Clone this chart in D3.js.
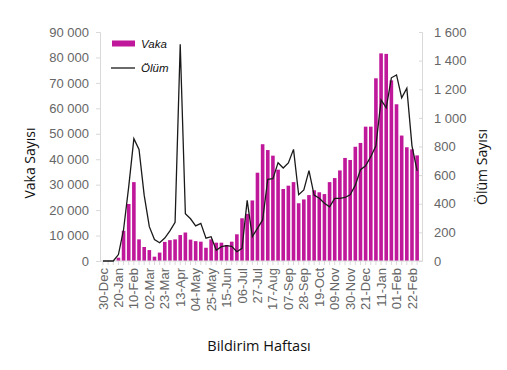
<!DOCTYPE html>
<html>
<head>
<meta charset="utf-8">
<script src="https://cdn.jsdelivr.net/npm/d3@7"></script>
<style>
  body { margin: 0; background: #fff; }
  svg { display: block; }
</style>
</head>
<body>
<script>
// weekly categories, 30-Dec-2019 .. 01-Mar-2021
var weeks = ["30-Dec", "06-Jan", "13-Jan", "20-Jan", "27-Jan", "03-Feb", "10-Feb", "17-Feb", "24-Feb",
    "02-Mar", "09-Mar", "16-Mar", "23-Mar", "30-Mar", "06-Apr", "13-Apr", "20-Apr", "27-Apr",
    "04-May", "11-May", "18-May", "25-May", "01-Jun", "08-Jun", "15-Jun", "22-Jun", "29-Jun",
    "06-Jul", "13-Jul", "20-Jul", "27-Jul", "03-Aug", "10-Aug", "17-Aug", "24-Aug", "31-Aug",
    "07-Sep", "14-Sep", "21-Sep", "28-Sep", "05-Oct", "12-Oct", "19-Oct", "26-Oct", "02-Nov",
    "09-Nov", "16-Nov", "23-Nov", "30-Nov", "07-Dec", "14-Dec", "21-Dec", "28-Dec", "04-Jan",
    "11-Jan", "18-Jan", "25-Jan", "01-Feb", "08-Feb", "15-Feb", "22-Feb", "01-Mar"];

// only every third week gets a label
var tickWeeks = ["30-Dec", "20-Jan", "10-Feb", "02-Mar", "23-Mar", "13-Apr", "04-May", "25-May",
    "15-Jun", "06-Jul", "27-Jul", "17-Aug", "07-Sep", "28-Sep", "19-Oct", "09-Nov", "30-Nov",
    "21-Dec", "11-Jan", "01-Feb", "22-Feb"];

// cases (bars, left axis)
var vaka = [0, 0, 0, 1300, 11900, 22400, 31000, 8500, 5500,
    4300, 1700, 3300, 7500, 8200, 8500, 10200, 11200, 8400,
    7800, 7600, 5200, 8500, 7200, 7200, 6300, 7600, 10500,
    16800, 18500, 23800, 34700, 45900, 43600, 41400, 35900, 28300,
    29600, 31000, 22700, 24200, 25900, 27800, 27000, 26300, 31000,
    32600, 35600, 40500, 39700, 44900, 46400, 52800, 52800, 71800,
    81600, 81400, 71000, 61600, 49300, 44700, 43900, 41500];

// deaths (line, right axis)
var olum = [0, 0, 0, 45, 220, 520, 855, 780, 460,
    240, 150, 128, 160, 210, 270, 1515, 330, 295,
    245, 263, 160, 170, 75, 100, 108, 102, 65,
    89, 424, 170, 228, 287, 571, 575, 687, 650,
    685, 780, 463, 496, 631, 461, 438, 403, 378,
    438, 438, 444, 463, 530, 638, 665, 729, 805,
    1125, 1070, 1280, 1300, 1140, 1207, 805, 630];

var leftTicks = [0, 10000, 20000, 30000, 40000, 50000, 60000, 70000, 80000, 90000];
var rightTicks = [0, 200, 400, 600, 800, 1000, 1200, 1400, 1600];

var svg = d3.select("body")
    .append("svg")
    .attr("width", 507)
    .attr("height", 370);

// space as thousands separator
var loc = d3.formatLocale({ decimal: ",", thousands: "\u00a0", grouping: [3], currency: ["", ""] });
var fmt = loc.format(",");

var x = d3.scaleBand().domain(weeks).range([100.4, 419.7]).paddingInner(0.3).paddingOuter(0.15);
var yL = d3.scaleLinear().domain([0, 90000]).range([261, 32]);
var yR = d3.scaleLinear().domain([0, 1600]).range([261, 32]);

var axisColor = "#d9d9d9";
var labelColor = "#666";

// bars
svg.append("g").selectAll("rect")
    .data(vaka)
    .enter().append("rect")
    .attr("x", function (d, i) { return x(weeks[i]); })
    .attr("width", x.bandwidth())
    .attr("y", function (d) { return yL(d); })
    .attr("height", function (d) { return yL(0) - yL(d); })
    .attr("fill", "#c0189a");

// x axis: line, small ticks at every week, labels every third week
var gx = svg.append("g").attr("transform", "translate(0,261)");
gx.append("line").attr("x1", 100).attr("x2", 422).attr("stroke", axisColor);
gx.selectAll(".minor")
    .data(weeks)
    .enter().append("line")
    .attr("x1", function (d) { return x(d) + x.bandwidth() / 2; })
    .attr("x2", function (d) { return x(d) + x.bandwidth() / 2; })
    .attr("y1", 0).attr("y2", 4)
    .attr("stroke", axisColor);
gx.selectAll("text")
    .data(tickWeeks)
    .enter().append("text")
    .attr("transform", function (d) {
        return "translate(" + (x(d) + x.bandwidth() / 2) + ",7) rotate(-90)";
    })
    .attr("dy", "0.35em")
    .attr("text-anchor", "end")
    .attr("font-family", "Liberation Sans, Arial, sans-serif")
    .attr("font-size", 13)
    .attr("fill", labelColor)
    .text(function (d) { return d; });

// left axis
var gl = svg.append("g").attr("transform", "translate(100,0)")
    .call(d3.axisLeft(yL).tickValues(leftTicks).tickFormat(fmt).tickSize(4).tickPadding(7));
// right axis, ticks pointing inward
var gr = svg.append("g").attr("transform", "translate(422,0)")
    .call(d3.axisRight(yR).tickValues(rightTicks).tickFormat(fmt).tickSize(-3).tickPadding(12));

[gl, gr].forEach(function (g) {
    g.select(".domain").attr("stroke", axisColor);
    g.selectAll(".tick line").attr("stroke", axisColor);
    g.selectAll(".tick text")
        .attr("font-family", "Liberation Sans, Arial, sans-serif")
        .attr("font-size", 13)
        .attr("fill", labelColor);
});

// deaths line
var line = d3.line()
    .x(function (d, i) { return x(weeks[i]) + x.bandwidth() / 2; })
    .y(function (d) { return yR(d); });
svg.append("path")
    .datum(olum)
    .attr("d", line)
    .attr("fill", "none")
    .attr("stroke", "#1a1a1a")
    .attr("stroke-width", 1.3);

// legend
svg.append("rect").attr("x", 112).attr("y", 40.5).attr("width", 23).attr("height", 6).attr("fill", "#c0189a");
svg.append("line").attr("x1", 111).attr("x2", 135).attr("y1", 68).attr("y2", 68)
    .attr("stroke", "#1a1a1a").attr("stroke-width", 1.3);
var legendText = [{ t: "Vaka", y: 48 }, { t: "Ölüm", y: 72 }];
svg.selectAll(".leg")
    .data(legendText)
    .enter().append("text")
    .attr("x", 141)
    .attr("y", function (d) { return d.y; })
    .attr("font-family", "Liberation Sans, Arial, sans-serif")
    .attr("font-style", "italic")
    .attr("font-size", 11.5)
    .attr("fill", "#111")
    .text(function (d) { return d.t; });

// axis titles
var titleFont = "Open Sans, Noto Sans, sans-serif";
svg.append("text")
    .attr("transform", "translate(30,163) rotate(-90)")
    .attr("dy", "0.35em")
    .attr("text-anchor", "middle")
    .attr("font-family", titleFont).attr("font-size", 14).attr("fill", "#111")
    .text("Vaka Sayısı");
svg.append("text")
    .attr("transform", "translate(482,167) rotate(-90)")
    .attr("dy", "0.35em")
    .attr("text-anchor", "middle")
    .attr("font-family", titleFont).attr("font-size", 14).attr("fill", "#111")
    .text("Ölüm Sayısı");
svg.append("text")
    .attr("x", 259).attr("y", 351)
    .attr("text-anchor", "middle")
    .attr("font-family", titleFont).attr("font-size", 14.5).attr("fill", "#111")
    .text("Bildirim Haftası");
</script>
</body>
</html>
